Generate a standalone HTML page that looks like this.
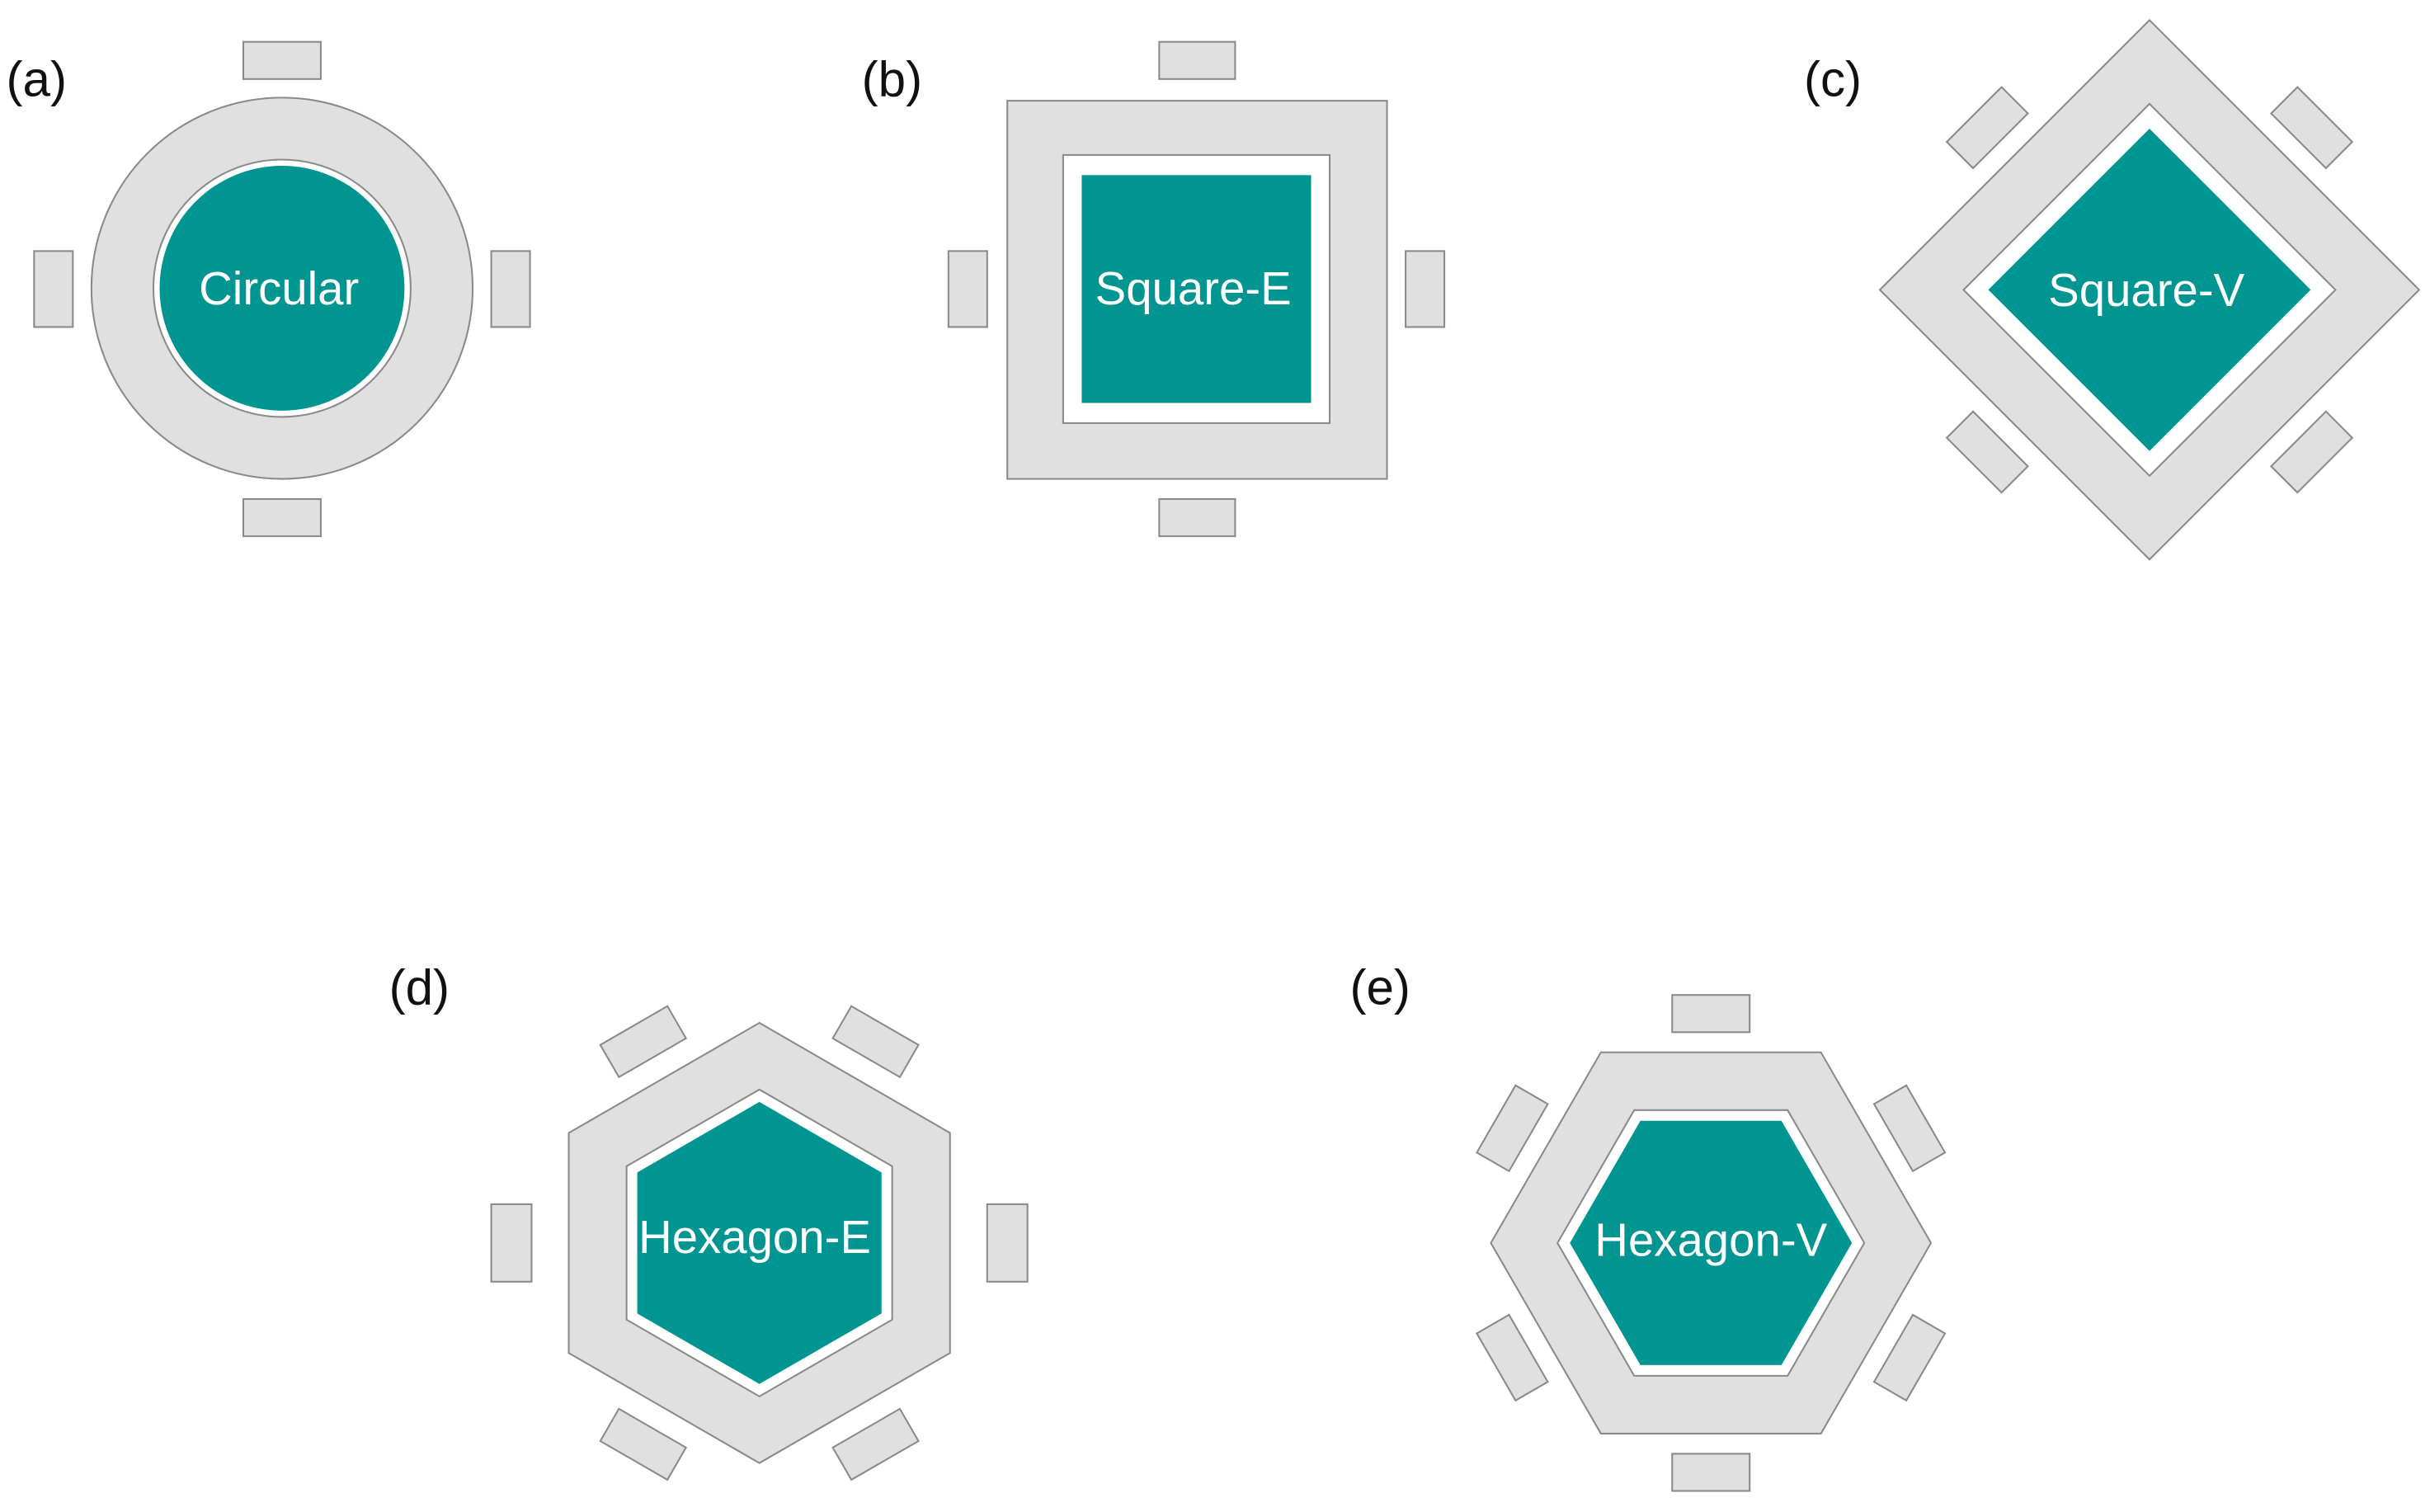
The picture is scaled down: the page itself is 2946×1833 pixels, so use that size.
<!DOCTYPE html>
<html><head><meta charset="utf-8"><style>
html,body{margin:0;padding:0;background:#fff;}
svg{display:block;}
text{font-family:"Liberation Sans",sans-serif;}
</style></head><body>
<svg width="2946" height="1833" viewBox="0 0 1568 975.6" preserveAspectRatio="none" xmlns="http://www.w3.org/2000/svg">
<defs>
<style>
.g{fill:#e0e0e0;stroke:#8a8a8a;stroke-width:1.1}
.w{fill:#fff;stroke:#8a8a8a;stroke-width:1.1}
.t{fill:#009591}
.lb{font-size:32px;fill:#111}
.nt{font-size:30px;fill:#fff;text-anchor:middle;dominant-baseline:central}
</style>
</defs>
<!-- (a) -->
<text class="lb" x="4" y="62">(a)</text>
<rect class="g" x="157" y="27" width="50" height="24"/>
<rect class="g" x="157" y="322" width="50" height="24"/>
<rect class="g" x="22" y="162" width="25" height="49"/>
<rect class="g" x="317" y="162" width="25" height="49"/>
<circle class="g" cx="182" cy="186" r="123"/>
<circle class="w" cx="182" cy="186" r="83"/>
<circle class="t" cx="182" cy="186" r="79"/>
<text class="nt" x="180" y="186">Circular</text>

<!-- (b) -->
<text class="lb" x="556" y="62">(b)</text>
<rect class="g" x="748" y="27" width="49" height="24"/>
<rect class="g" x="748" y="322" width="49" height="24"/>
<rect class="g" x="612" y="162" width="25" height="49"/>
<rect class="g" x="907" y="162" width="25" height="49"/>
<rect class="g" x="650" y="65" width="245" height="244"/>
<rect class="w" x="686" y="100" width="172" height="173"/>
<rect class="t" x="698" y="113" width="148" height="147"/>
<text class="nt" x="770" y="186">Square-E</text>

<!-- (c) -->
<text class="lb" x="1164" y="62">(c)</text>
<g transform="translate(1387,187)">
<g transform="rotate(-45) translate(0,-148)"><rect class="g" x="-25" y="-12" width="50" height="24"/></g>
<g transform="rotate(45) translate(0,-148)"><rect class="g" x="-25" y="-12" width="50" height="24"/></g>
<g transform="rotate(135) translate(0,-148)"><rect class="g" x="-25" y="-12" width="50" height="24"/></g>
<g transform="rotate(-135) translate(0,-148)"><rect class="g" x="-25" y="-12" width="50" height="24"/></g>
<polygon class="g" points="0,-174 174,0 0,174 -174,0"/>
<polygon class="w" points="0,-120 120,0 0,120 -120,0"/>
<polygon class="t" points="0,-104 104,0 0,104 -104,0"/>
<text class="nt" x="-2" y="0">Square-V</text>
</g>

<!-- (d) -->
<text class="lb" x="251" y="648">(d)</text>
<g transform="translate(490,802)">
<g transform="rotate(-90) translate(0,-160)"><rect class="g" x="-25" y="-13" width="50" height="26"/></g>
<g transform="rotate(90) translate(0,-160)"><rect class="g" x="-25" y="-13" width="50" height="26"/></g>
<g transform="rotate(-30) translate(0,-150)"><rect class="g" x="-25" y="-12" width="50" height="24"/></g>
<g transform="rotate(30) translate(0,-150)"><rect class="g" x="-25" y="-12" width="50" height="24"/></g>
<g transform="rotate(150) translate(0,-150)"><rect class="g" x="-25" y="-12" width="50" height="24"/></g>
<g transform="rotate(-150) translate(0,-150)"><rect class="g" x="-25" y="-12" width="50" height="24"/></g>
<polygon class="g" points="0,-142 123,-71 123,71 0,142 -123,71 -123,-71"/>
<polygon class="w" points="0,-99 85.7,-49.5 85.7,49.5 0,99 -85.7,49.5 -85.7,-49.5"/>
<polygon class="t" points="0,-91 78.8,-45.5 78.8,45.5 0,91 -78.8,45.5 -78.8,-45.5"/>
<text class="nt" x="-3" y="-4">Hexagon-E</text>
</g>

<!-- (e) -->
<text class="lb" x="871" y="648">(e)</text>
<g transform="translate(1104,802)">
<g transform="translate(0,-148)"><rect class="g" x="-25" y="-12" width="50" height="24"/></g>
<g transform="rotate(180) translate(0,-148)"><rect class="g" x="-25" y="-12" width="50" height="24"/></g>
<g transform="rotate(60) translate(0,-148)"><rect class="g" x="-25" y="-12" width="50" height="24"/></g>
<g transform="rotate(120) translate(0,-148)"><rect class="g" x="-25" y="-12" width="50" height="24"/></g>
<g transform="rotate(-60) translate(0,-148)"><rect class="g" x="-25" y="-12" width="50" height="24"/></g>
<g transform="rotate(-120) translate(0,-148)"><rect class="g" x="-25" y="-12" width="50" height="24"/></g>
<polygon class="g" points="-142,0 -71,-123 71,-123 142,0 71,123 -71,123"/>
<polygon class="w" points="-99,0 -49.5,-85.7 49.5,-85.7 99,0 49.5,85.7 -49.5,85.7"/>
<polygon class="t" points="-91,0 -45.5,-78.8 45.5,-78.8 91,0 45.5,78.8 -45.5,78.8"/>
<text class="nt" x="0" y="-2">Hexagon-V</text>
</g>
</svg>
</body></html>
